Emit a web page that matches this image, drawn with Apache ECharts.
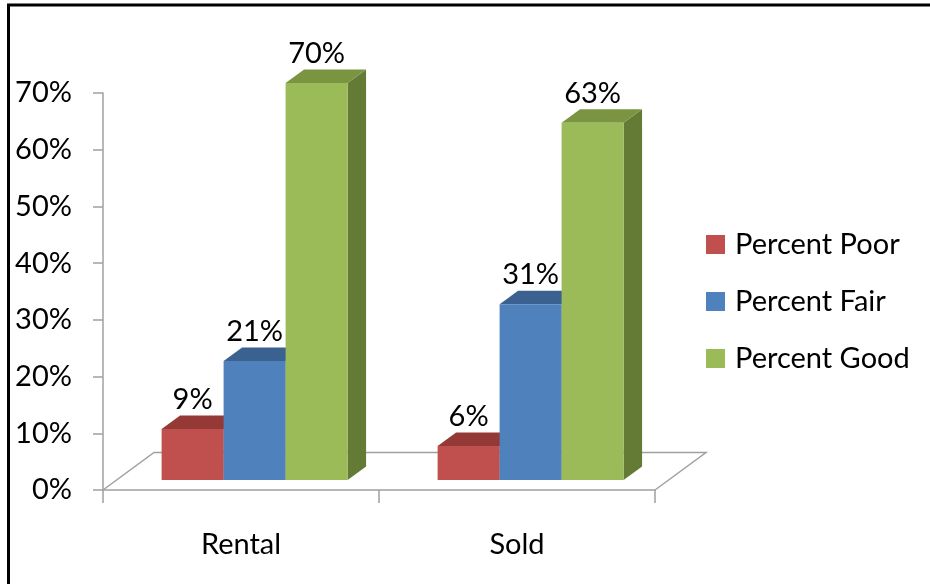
<!DOCTYPE html>
<html>
<head>
<meta charset="utf-8">
<script src="https://cdn.jsdelivr.net/npm/echarts@6/dist/echarts.min.js"></script>
<style>
html,body{margin:0;padding:0;background:#fff;}
#chart{width:930px;height:584px;}
</style>
</head>
<body>
<div id="chart"></div>
<script>
// ---- data ----
const categories = ['Rental', 'Sold'];
const seriesNames = ['Percent Poor', 'Percent Fair', 'Percent Good'];
const percentPoor = [9, 6];
const percentFair = [21, 31];
const percentGood = [70, 63];
const yMin = 0, yMax = 70, yStep = 10;

// ---- styles ----
const FONT = 'Lato, "Open Sans", sans-serif';
const FS = 29;
const faceColors = [
  { front: '#C0504D', top: '#953936', side: '#7E2F2D' },
  { front: '#4F81BD', top: '#3A6190', side: '#2F4F77' },
  { front: '#9BBB59', top: '#7A9442', side: '#647B36' }
];
// projection constants (pixels)
const FLOOR_DX = 51, FLOOR_DY = 37.5;   // floor depth
const FRONT_DX = 13.6, FRONT_DY = 10;   // offset of bar front face behind floor front
const BAR_DX = 18.5, BAR_DY = 13.4;     // bar depth
const BAR_FRACTION = 0.2246;            // bar width / category band

function makeBarSeries(idx, values) {
  return {
    name: seriesNames[idx],
    type: 'custom',
    z: 3 + idx,
    itemStyle: { color: faceColors[idx].front },
    data: values.map((v, j) => [j, v]),
    renderItem: function (params, api) {
      const cat = api.value(0), val = api.value(1);
      const band = api.size([1, 0])[0];
      const barW = band * BAR_FRACTION;
      const groupW = barW * 3;
      const base = api.coord([cat, 0]);
      const top = api.coord([cat, val]);
      const x0 = base[0] - groupW / 2 + FRONT_DX + idx * barW;
      const yb = base[1] - FRONT_DY;
      const yt = top[1] - FRONT_DY;
      const c = faceColors[idx];
      return {
        type: 'group',
        children: [
          { type: 'polygon', shape: { points: [[x0 + barW, yt], [x0 + barW + BAR_DX, yt - BAR_DY], [x0 + barW + BAR_DX, yb - BAR_DY], [x0 + barW, yb]] }, style: { fill: c.side } },
          { type: 'polygon', shape: { points: [[x0, yt], [x0 + barW, yt], [x0 + barW + BAR_DX, yt - BAR_DY], [x0 + BAR_DX, yt - BAR_DY]] }, style: { fill: c.top } },
          { type: 'rect', shape: { x: x0, y: yt, width: barW, height: yb - yt }, style: { fill: c.front } },
          { type: 'text', x: x0 + barW / 2, y: yt - BAR_DY - 16, style: { text: val + '%', fontSize: FS, fontFamily: FONT, fill: '#000', align: 'center', verticalAlign: 'middle' } }
        ]
      };
    }
  };
}

const floorSeries = {
  name: 'floor',
  type: 'custom',
  z: 1,
  silent: true,
  data: [[0, 0]],
  renderItem: function (params, api) {
    const cs = params.coordSys;
    const x1 = cs.x, x2 = cs.x + cs.width, y = cs.y + cs.height;
    return {
      type: 'polyline',
      shape: { points: [[x1, y], [x1 + FLOOR_DX, y - FLOOR_DY], [x2 + FLOOR_DX, y - FLOOR_DY], [x2, y]] },
      style: { stroke: '#A0A0A0', lineWidth: 1.5, fill: null }
    };
  }
};

const chart = echarts.init(document.getElementById('chart'), null, { renderer: 'canvas' });
chart.setOption({
  animation: false,
  backgroundColor: '#fff',
  grid: { left: 103, right: 275, top: 93, bottom: 94, containLabel: false },
  xAxis: {
    type: 'category',
    data: categories,
    boundaryGap: true,
    axisLine: { show: true, lineStyle: { color: '#A0A0A0', width: 1.5 } },
    axisTick: { show: true, length: 13, lineStyle: { color: '#A0A0A0', width: 1.5 } },
    axisLabel: { margin: 40, fontSize: FS, fontFamily: FONT, color: '#000' },
    splitLine: { show: false }
  },
  yAxis: {
    type: 'value',
    min: yMin, max: yMax, interval: yStep,
    axisLine: { show: true, lineStyle: { color: '#A0A0A0', width: 1.5 } },
    axisTick: { show: true, length: 10, lineStyle: { color: '#A0A0A0', width: 1.5 } },
    axisLabel: { margin: 31, fontSize: FS, fontFamily: FONT, color: '#000', formatter: '{value}%' },
    splitLine: { show: false }
  },
  legend: {
    orient: 'vertical',
    left: 706, top: 230,
    padding: 0,
    itemWidth: 19, itemHeight: 19, itemGap: 28,
    icon: 'rect',
    data: seriesNames.map((n, i) => ({ name: n, itemStyle: { color: faceColors[i].front } })),
    textStyle: { fontSize: FS, fontFamily: FONT, color: '#000', padding: [0, 0, 0, 5] }
  },
  graphic: [
    { type: 'rect', shape: { x: 8.5, y: 5, width: 1000, height: 1000 }, style: { fill: null, stroke: '#000', lineWidth: 3 }, z: 100, silent: true }
  ],
  series: [
    floorSeries,
    makeBarSeries(0, percentPoor),
    makeBarSeries(1, percentFair),
    makeBarSeries(2, percentGood)
  ]
});
</script>
</body>
</html>
